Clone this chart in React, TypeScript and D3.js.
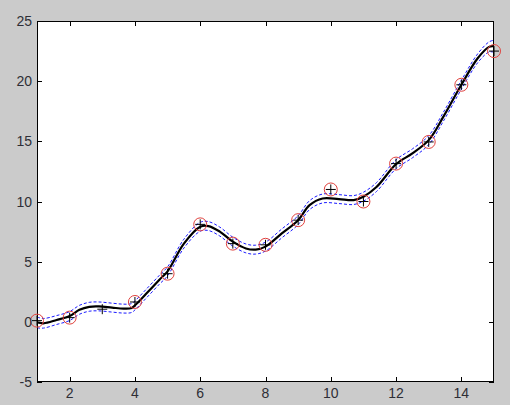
import React from "react";
import * as d3 from "d3";

// Data points (plus markers)
const dataX = [1, 2, 3, 4, 5, 6, 7, 8, 9, 10, 11, 12, 13, 14, 15];
const dataY = [0.1, 0.35, 1.05, 1.65, 4.0, 8.1, 6.5, 6.4, 8.45, 11.0, 10.0, 13.15, 14.95, 19.7, 22.5];
// Circled points
const circleX = [1, 2, 4, 5, 6, 7, 8, 9, 10, 11, 12, 13, 14, 15];
const circleY = [0.1, 0.35, 1.65, 4.0, 8.1, 6.5, 6.4, 8.45, 11.0, 10.0, 13.15, 14.95, 19.7, 22.5];

// Smooth fit curve
const fitX = [1, 1.2, 1.6, 2, 2.3, 2.6, 2.9, 3.3, 3.65, 3.9, 4.05, 4.35, 4.75, 5, 5.5, 6, 6.25, 6.6, 7, 7.4, 7.7, 8, 8.5, 9, 9.35, 9.75, 10.25, 10.7, 11, 11.4, 12, 12.5, 13, 13.45, 14, 14.5, 14.85, 15];
const fitY = [-0.05, -0.12, 0.15, 0.48, 1.0, 1.25, 1.28, 1.18, 1.1, 1.15, 1.5, 2.35, 3.5, 4.2, 6.5, 7.9, 7.96, 7.5, 6.66, 6.1, 6.0, 6.25, 7.35, 8.45, 9.7, 10.25, 10.2, 10.12, 10.4, 11.2, 13.1, 14.0, 15.1, 17.05, 19.7, 21.9, 22.85, 22.9];
// Confidence bounds
const upperY = [0.4, 0.28, 0.52, 0.85, 1.37, 1.62, 1.65, 1.55, 1.47, 1.52, 1.87, 2.72, 3.87, 4.57, 6.87, 8.27, 8.33, 7.87, 7.03, 6.47, 6.37, 6.62, 7.72, 8.82, 10.07, 10.62, 10.57, 10.49, 10.77, 11.57, 13.47, 14.37, 15.47, 17.42, 20.07, 22.27, 23.27, 23.4];
const lowerY = [-0.5, -0.52, -0.22, 0.11, 0.63, 0.88, 0.91, 0.81, 0.73, 0.78, 1.13, 1.98, 3.13, 3.83, 6.13, 7.53, 7.59, 7.13, 6.29, 5.73, 5.63, 5.88, 6.98, 8.08, 9.33, 9.88, 9.83, 9.75, 10.03, 10.83, 12.73, 13.63, 14.73, 16.68, 19.33, 21.53, 22.43, 22.4];

const xTicks = [2, 4, 6, 8, 10, 12, 14];
const yTicks = [-5, 0, 5, 10, 15, 20, 25];

const W = 510, H = 405;
const L = 37, R = 494, T = 21, B = 382;

export default function App() {
  const x = d3.scaleLinear().domain([1, 15]).range([L, R]);
  const y = d3.scaleLinear().domain([-5, 25]).range([B, T]);
  const line = d3
    .line<number>()
    .x((_, i) => x(fitX[i]))
    .y((d) => y(d))
    .curve(d3.curveCatmullRom.alpha(0.5));
  const tk = 5;
  const font = "'Liberation Sans', Arial, sans-serif";
  const txt = "#2e2e36";
  return (
    <div style={{ position: "fixed", left: 0, top: 0 }}>
      <svg width={W} height={H} style={{ display: "block" }}>
        <rect x={0} y={0} width={W} height={H} fill="#cbcbcb" />
        <rect x={L} y={T} width={R - L} height={B - T} fill="#ffffff" />
        <defs>
          <clipPath id="clp">
            <rect x={L} y={T} width={R - L} height={B - T} />
          </clipPath>
        </defs>
        <g clipPath="url(#clp)">
          <path d={line(upperY) || ""} fill="none" stroke="#1a1aff" strokeWidth={1} strokeDasharray="3,2" />
          <path d={line(lowerY) || ""} fill="none" stroke="#1a1aff" strokeWidth={1} strokeDasharray="3,2" />
          <path d={line(fitY) || ""} fill="none" stroke="#000" strokeWidth={2.2} />
        </g>
        {/* ticks */}
        <g stroke="#000" strokeWidth={1}>
          {xTicks.map((t) => (
            <g key={"xt" + t}>
              <line x1={Math.round(x(t)) + 0.5} x2={Math.round(x(t)) + 0.5} y1={B} y2={B - tk} />
              <line x1={Math.round(x(t)) + 0.5} x2={Math.round(x(t)) + 0.5} y1={T} y2={T + tk} />
            </g>
          ))}
          {yTicks.map((t) => (
            <g key={"yt" + t}>
              <line x1={L} x2={L + tk} y1={Math.round(y(t)) + 0.5} y2={Math.round(y(t)) + 0.5} />
              <line x1={R} x2={R - tk} y1={Math.round(y(t)) + 0.5} y2={Math.round(y(t)) + 0.5} />
            </g>
          ))}
          <rect x={L + 0.5} y={T + 0.5} width={R - L - 1} height={B - T - 1} fill="none" stroke="#000" />
        </g>
        {circleX.map((cx, i) => (
          <circle key={"c" + i} cx={x(cx)} cy={y(circleY[i])} r={6.5} fill="none" stroke="#e0403c" strokeWidth={1} />
        ))}
        {dataX.map((px, i) => {
          const X = x(px), Y = y(dataY[i]);
          return (
            <g key={"p" + i} stroke="#000" strokeWidth={1}>
              <line x1={X - 5} x2={X + 5} y1={Y} y2={Y} />
              <line x1={X} x2={X} y1={Y - 5} y2={Y + 5} />
            </g>
          );
        })}
        {xTicks.map((t) => (
          <text key={"xl" + t} x={x(t)} y={398} textAnchor="middle" fontFamily={font} fontSize={14} fill={txt}>
            {t}
          </text>
        ))}
        {yTicks.map((t) => (
          <text key={"yl" + t} x={32} y={y(t) + 5} textAnchor="end" fontFamily={font} fontSize={14} fill={txt}>
            {t}
          </text>
        ))}
      </svg>
    </div>
  );
}
